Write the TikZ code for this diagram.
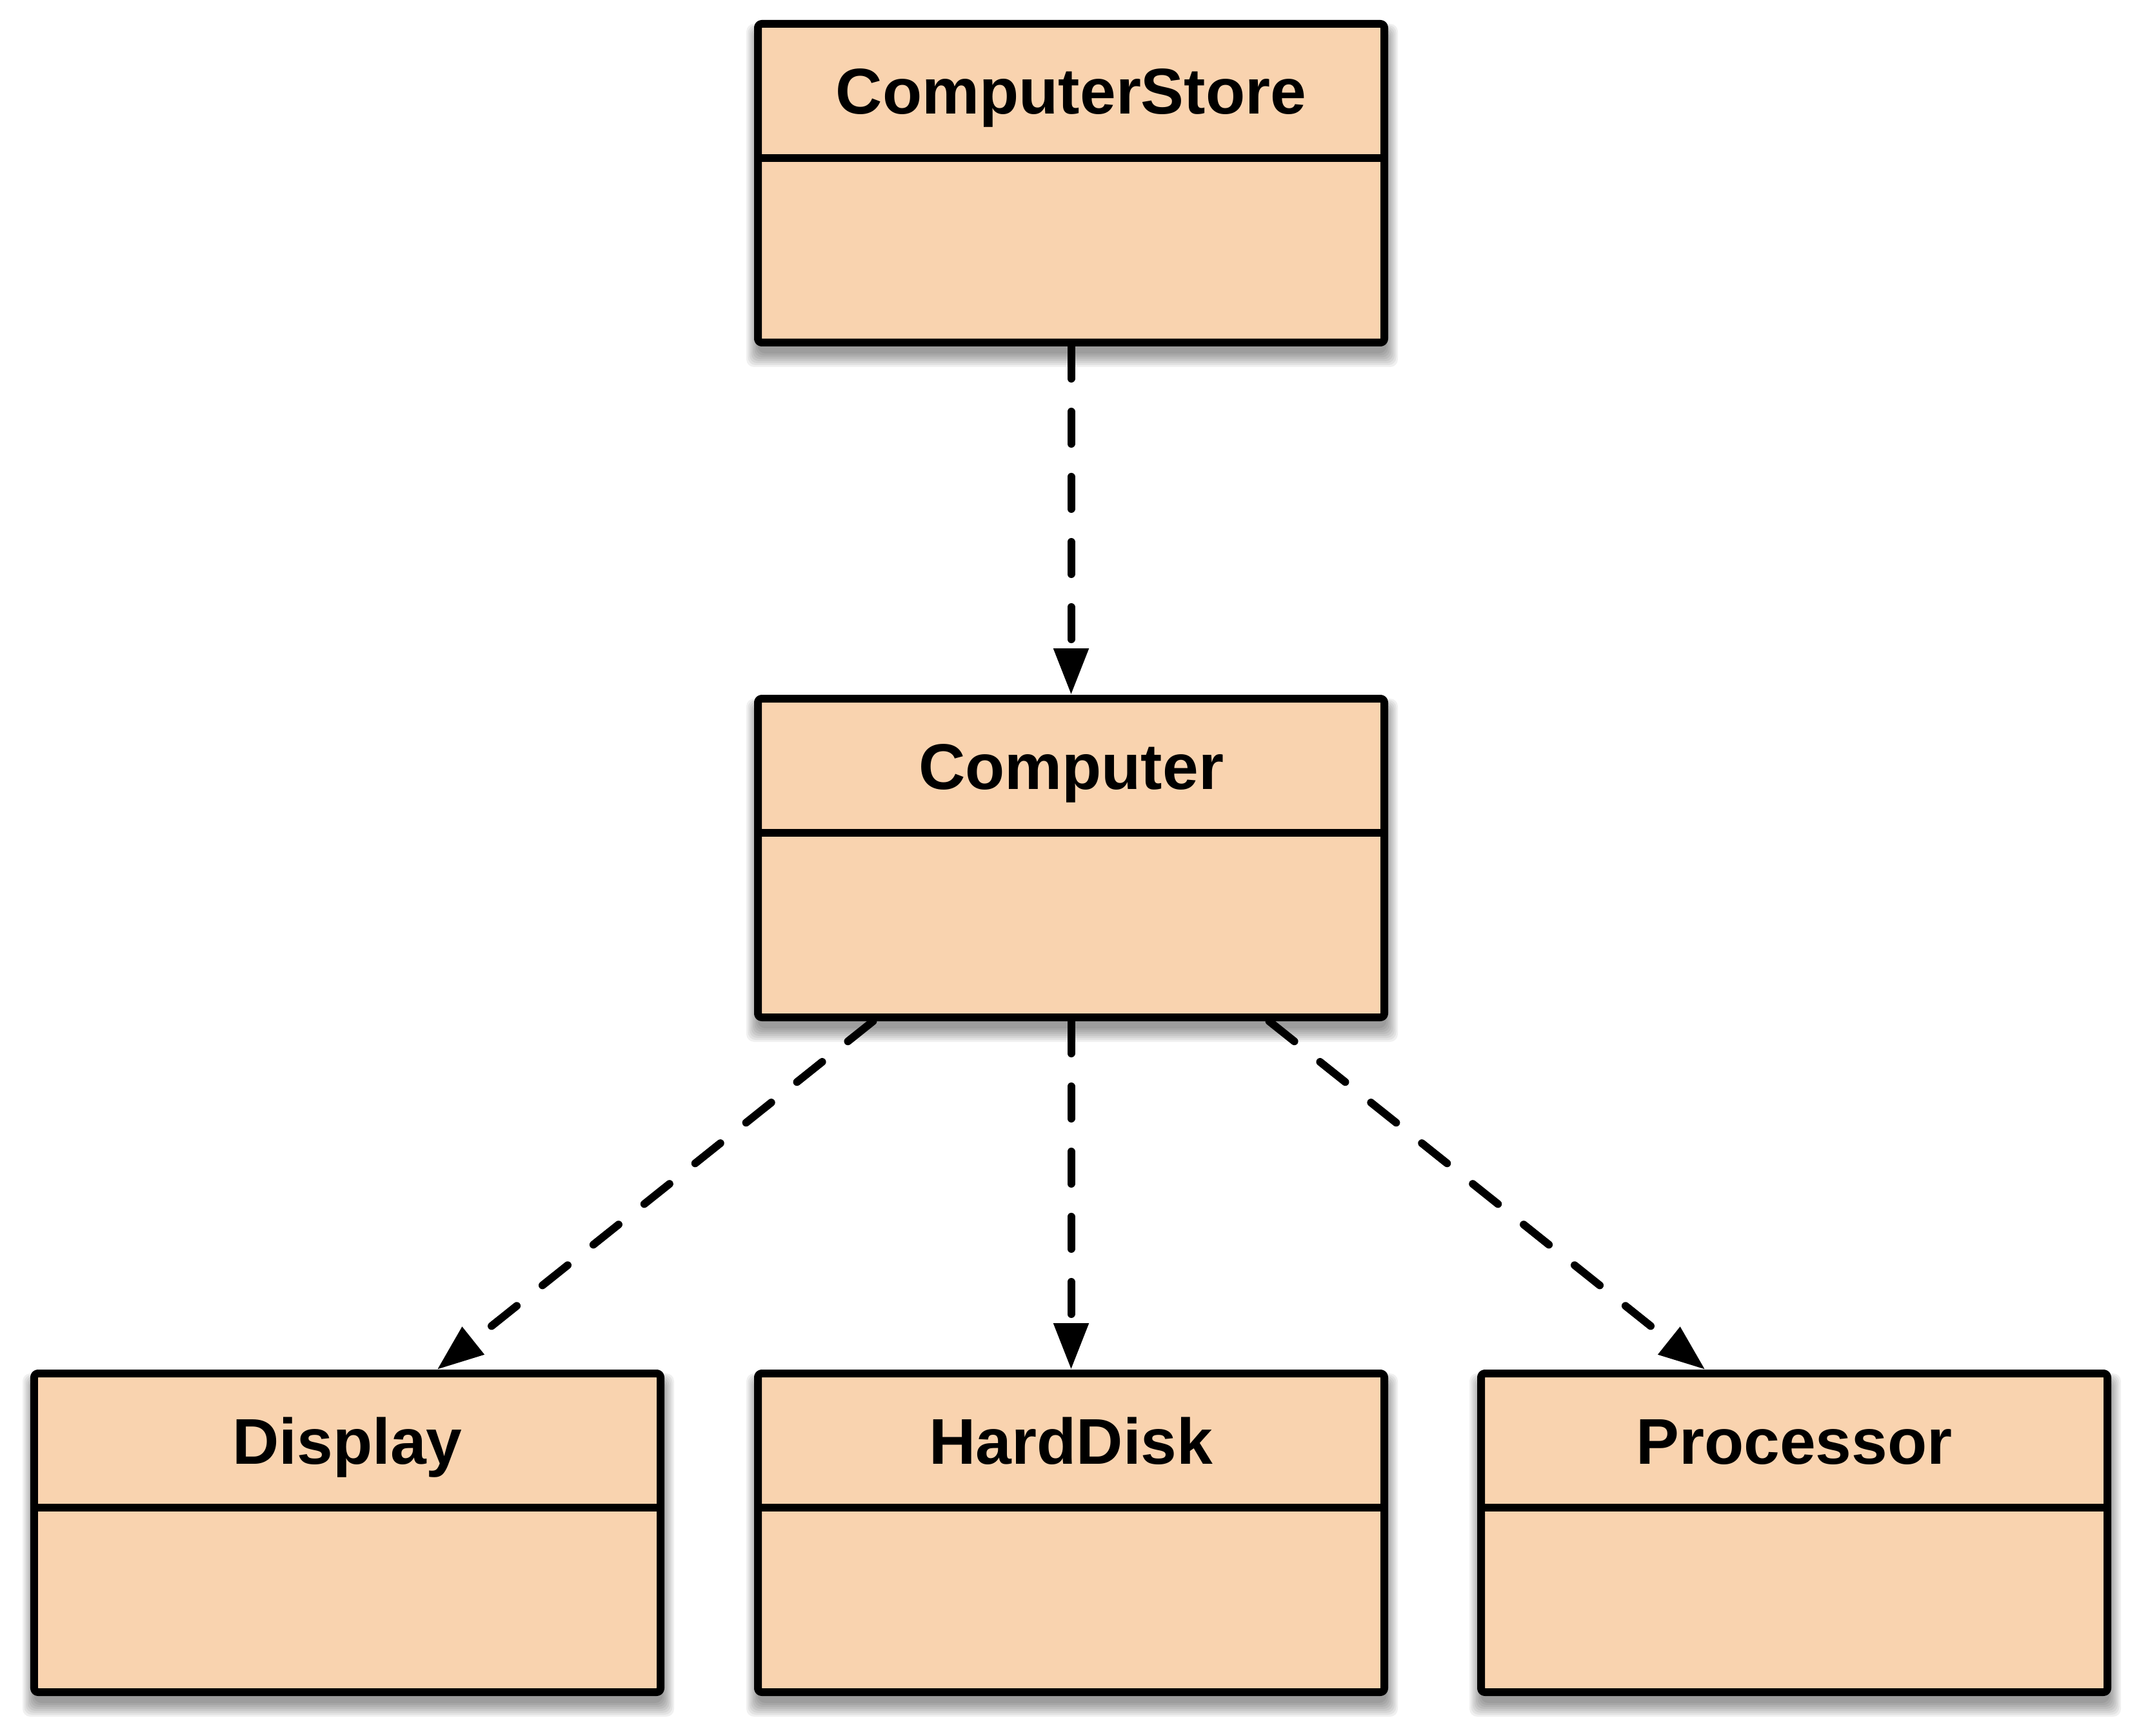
\documentclass[tikz,border=0pt]{standalone}
\usepackage{fontspec}
\setmainfont{Liberation Sans}
\usetikzlibrary{arrows.meta,calc,backgrounds}
\definecolor{boxfill}{RGB}{249,211,175}
\tikzset{
  umlclass/.style={draw=black, fill=boxfill, line width=0.12cm, minimum width=9.71cm,
    minimum height=4.94cm, inner sep=0pt, rounded corners=0.06cm, line join=round},
  classname/.style={anchor=base, font=\fontsize{28.5}{34}\selectfont\bfseries, inner sep=0pt},
  divider/.style={line width=0.12cm},
  dep/.style={line width=0.12cm, line cap=round, dash pattern=on 0.5cm off 0.51cm,
    -{Triangle[length=0.72cm,width=0.52cm]}},
  softshadow/.style={black, opacity=0.06, rounded corners=0.12cm},
}
\begin{document}
\begin{tikzpicture}
\useasboundingbox (0,0) rectangle (33.16,-26.91);
\node[umlclass] (store) at (16.605,-2.84) {};
\node[umlclass] (comp) at (16.605,-13.30) {};
\node[umlclass] (disp) at (5.385,-23.76) {};
\node[umlclass] (hd) at (16.605,-23.76) {};
\node[umlclass] (proc) at (27.815,-23.76) {};
\foreach \n/\t in {store/ComputerStore, comp/Computer, disp/Display, hd/HardDisk, proc/Processor} {
  \node[classname] (\n-title) at ($(\n.north)+(0,-1.46)$) {\t};
  \draw[divider] ($(\n.north west)+(0,-2.14)$) -- ($(\n.north east)+(0,-2.14)$);
}
\begin{scope}[on background layer]
\foreach \n in {store,comp,disp,hd,proc} {
  \foreach \k in {1,...,8} {
    \fill[softshadow] ($(\n.south west)+(0.08-0.025*\k,-0.08-0.03*\k)$) rectangle ($(\n.north east)+(-0.05+0.025*\k,-0.22+0.02*\k)$);
  }
}
\end{scope}
\draw[dep] (store.south) -- (comp.north);
\draw[dep] ($(comp.south)+(-3.07,0)$) -- ($(disp.north)+(1.39,0)$);
\draw[dep] (comp.south) -- (hd.north);
\draw[dep] ($(comp.south)+(3.07,0)$) -- ($(proc.north)+(-1.38,0)$);
\end{tikzpicture}
\end{document}
